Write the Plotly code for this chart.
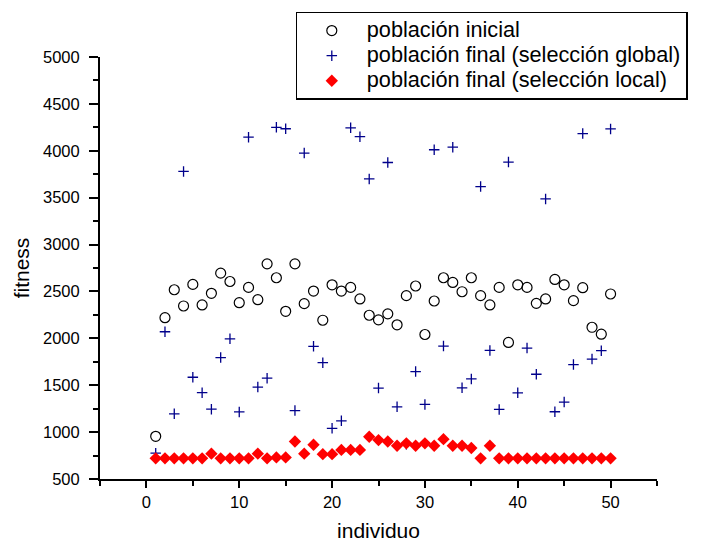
import plotly.graph_objects as go

individuo = list(range(1, 51))

inicial = [955, 2220, 2518, 2345, 2575, 2356, 2480, 2695, 2606, 2380,
           2543, 2412, 2794, 2646, 2288, 2794, 2370, 2504, 2193, 2571,
           2504, 2543, 2420, 2246, 2197, 2261, 2144, 2455, 2558, 2041,
           2398, 2646, 2596, 2497, 2646, 2455, 2356, 2543, 1956, 2571,
           2543, 2373, 2420, 2628, 2571, 2402, 2540, 2118, 2044, 2473]

final_global = [775, 2070, 1195, 3780, 1585, 1420, 1245, 1795, 1995, 1215,
                4145, 1480, 1575, 4250, 4235, 1230, 3975, 1915, 1740, 1040,
                1120, 4245, 4150, 3700, 1470, 3875, 1270, 870, 1645, 1295,
                4011, 1917, 4038, 1472, 1567, 3618, 1871, 1242, 3879, 1419,
                1896, 1617, 3487, 1217, 1320, 1720, 4183, 1779, 1868, 4233]

final_local = [720, 720, 720, 720, 720, 720, 770, 720, 720, 720,
               720, 770, 720, 730, 730, 900, 770, 865, 765, 765,
               810, 810, 810, 950, 915, 900, 855, 880, 855, 880,
               855, 925, 855, 855, 830, 720, 855, 720, 720, 720,
               720, 720, 720, 720, 720, 720, 720, 720, 720, 720]

names = ["población inicial",
         "población final (selección global)",
         "población final (selección local)"]

x_ticks = [0, 10, 20, 30, 40, 50]
y_ticks = [500, 1000, 1500, 2000, 2500, 3000, 3500, 4000, 4500, 5000]

FONT = "Liberation Sans, Arial, sans-serif"


def legend_label(text):
    return "<span style='font-size:21.7px'>" + text + "</span>"


fig = go.Figure()
fig.add_trace(go.Scatter(
    x=individuo, y=inicial, mode="markers", name=legend_label(names[0]),
    marker=dict(symbol="circle-open", size=10, color="black",
                line=dict(color="black", width=1.2))))
fig.add_trace(go.Scatter(
    x=individuo, y=final_global, mode="markers", name=legend_label(names[1]),
    marker=dict(symbol="cross-thin", size=7.5, color="#00008B",
                line=dict(color="#00008B", width=1.3))))
fig.add_trace(go.Scatter(
    x=individuo, y=final_local, mode="markers", name=legend_label(names[2]),
    marker=dict(symbol="diamond", size=9.5, color="#FF0000",
                line=dict(width=0))))

fig.update_layout(
    width=702, height=545,
    margin=dict(l=100, r=45, t=55, b=66, pad=0),
    paper_bgcolor="white", plot_bgcolor="white",
    font=dict(family=FONT, color="black"),
    showlegend=True,
    legend=dict(
        x=(295.5 - 100) / 557, y=(479 - 9.5) / 424,
        xanchor="left", yanchor="top",
        bgcolor="white", bordercolor="black", borderwidth=1.3,
        font=dict(family=FONT, size=17, color="black"),
        itemwidth=60, tracegroupgap=0,
    ),
    xaxis=dict(
        range=[-5, 55], tickvals=x_ticks, showgrid=False, zeroline=False,
        showline=True, linecolor="black", linewidth=2,
        ticks="outside", ticklen=7, tickwidth=2, tickcolor="black",
        tickfont=dict(family=FONT, size=16.5, color="black"),
        minor=dict(dtick=5, tick0=0, ticks="outside", ticklen=5,
                   tickwidth=1.5, tickcolor="black", showgrid=False),
        title=dict(text="individuo", font=dict(family=FONT, size=21),
                   standoff=14),
        automargin=False,
    ),
    yaxis=dict(
        range=[500, 5000], tickvals=y_ticks, showgrid=False, zeroline=False,
        showline=True, linecolor="black", linewidth=2,
        ticks="outside", ticklen=9, tickwidth=2, tickcolor="black",
        tickfont=dict(family=FONT, size=16.5, color="black"),
        ticklabelstandoff=6,
        minor=dict(dtick=250, tick0=0, ticks="outside", ticklen=5,
                   tickwidth=1.5, tickcolor="black", showgrid=False),
        title=dict(text="fitness", font=dict(family=FONT, size=21),
                   standoff=8),
        automargin=False,
    ),
)

fig.write_html("out.html")
